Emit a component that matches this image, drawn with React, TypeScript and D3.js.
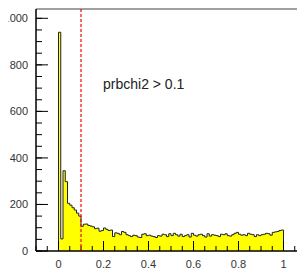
import * as d3 from 'd3';
import React, { useEffect, useRef } from 'react';

// bin contents, 100 bins of width 0.01 over [0, 1]
const binCounts: number[] = [
  940, 52, 345, 298, 205, 197, 186, 176, 163, 150,
  106, 115, 116, 110, 107, 104, 96, 98, 85, 88,
  99, 93, 88, 90, 62, 78, 76, 70, 84, 80,
  70, 66, 62, 68, 66, 60, 58, 72, 74, 66,
  68, 64, 62, 58, 66, 64, 72, 70, 62, 74,
  66, 76, 70, 64, 72, 62, 66, 70, 60, 76,
  68, 64, 70, 72, 66, 60, 74, 64, 70, 68,
  66, 62, 72, 70, 74, 66, 64, 70, 76, 80,
  72, 68, 70, 66, 76, 72, 70, 62, 70, 66,
  70, 72, 76, 74, 68, 80, 82, 84, 88, 90,
];
const binLow = 0;
const binWidth = 0.01;

const xTicks = [0, 0.2, 0.4, 0.6, 0.8, 1];
const xTickLabels = ["0", "0.2", "0.4", "0.6", "0.8", "1"];
const yTicks = [0, 200, 400, 600, 800, 1000];
const yTickLabels = ["0", "200", "400", "600", "800", "1000"];
const cutValue = 0.1;
const cutLabel = "prbchi2 > 0.1";

const W = 297;
const H = 269;

const App: React.FC = () => {
  const svgRef = useRef<SVGSVGElement>(null);

  useEffect(() => {
    if (!svgRef.current) { return; }
    const svg = d3.select(svgRef.current);
    svg.selectAll("*").remove();

    const left = 36, right = 297, top = 9, bottom = 251;
    const x = d3.scaleLinear().domain([-0.1, 1.06]).range([left, right]);
    const y = d3.scaleLinear().domain([0, 1040]).range([bottom, top]);

    // labels that run past the pad edge get cut, like in the original canvas
    svg.append("defs").append("clipPath")
      .attr("id", "padClip")
      .append("rect")
      .attr("x", 8.5).attr("y", 0)
      .attr("width", W).attr("height", H);

    // histogram outline points
    const pts: [number, number][] = [[binLow, 0]];
    binCounts.forEach((c, i) => pts.push([binLow + i * binWidth, c]));
    const xEnd = binLow + binCounts.length * binWidth;
    pts.push([xEnd, binCounts[binCounts.length - 1]]);
    pts.push([xEnd, 0]);

    const area = d3.area<[number, number]>()
      .x(p => x(p[0]))
      .y0(y(0))
      .y1(p => y(p[1]))
      .curve(d3.curveStepAfter);
    const line = d3.line<[number, number]>()
      .x(p => x(p[0]))
      .y(p => y(p[1]))
      .curve(d3.curveStepAfter);

    svg.append("path")
      .datum(pts)
      .attr("fill", "#ffff00")
      .attr("d", area);
    svg.append("path")
      .datum(pts)
      .attr("fill", "none")
      .attr("stroke", "#222")
      .attr("stroke-width", 1)
      .attr("d", line);

    // frame
    svg.append("line")
      .attr("x1", left).attr("x2", right)
      .attr("y1", top).attr("y2", top)
      .attr("stroke", "#808080").attr("stroke-width", 1.5);

    // x axis
    const xMinor = d3.range(-0.1, 1.0601, 0.05);
    const xAxis = svg.append("g");
    xAxis.append("line")
      .attr("x1", left).attr("x2", right)
      .attr("y1", bottom).attr("y2", bottom)
      .attr("stroke", "#000").attr("stroke-width", 1.5);
    xAxis.selectAll(".minor")
      .data(xMinor)
      .enter().append("line")
      .attr("x1", d => x(d)).attr("x2", d => x(d))
      .attr("y1", bottom).attr("y2", bottom - 5)
      .attr("stroke", "#000");
    xAxis.selectAll(".major")
      .data(xTicks)
      .enter().append("line")
      .attr("x1", d => x(d)).attr("x2", d => x(d))
      .attr("y1", bottom).attr("y2", bottom - 10)
      .attr("stroke", "#000");
    xAxis.selectAll("text")
      .data(xTicks)
      .enter().append("text")
      .attr("x", d => x(d))
      .attr("y", 268)
      .attr("text-anchor", "middle")
      .attr("font-family", "Liberation Sans, Arial, sans-serif")
      .attr("font-size", 11)
      .attr("fill", "#333")
      .text((_, i) => xTickLabels[i]);

    // y axis
    const yMinor = d3.range(0, 1040, 50);
    const yAxis = svg.append("g");
    yAxis.append("line")
      .attr("x1", left).attr("x2", left)
      .attr("y1", top).attr("y2", bottom)
      .attr("stroke", "#000").attr("stroke-width", 1.5);
    yAxis.selectAll(".minor")
      .data(yMinor)
      .enter().append("line")
      .attr("x1", left).attr("x2", left + 6)
      .attr("y1", d => y(d)).attr("y2", d => y(d))
      .attr("stroke", "#000");
    yAxis.selectAll(".major")
      .data(yTicks)
      .enter().append("line")
      .attr("x1", left).attr("x2", left + 12)
      .attr("y1", d => y(d)).attr("y2", d => y(d))
      .attr("stroke", "#000");
    yAxis.append("g")
      .attr("clip-path", "url(#padClip)")
      .selectAll("text")
      .data(yTicks)
      .enter().append("text")
      .attr("x", 28)
      .attr("y", d => y(d) + 4)
      .attr("text-anchor", "end")
      .attr("font-family", "Liberation Sans, Arial, sans-serif")
      .attr("font-size", 11)
      .attr("fill", "#333")
      .text((_, i) => yTickLabels[i]);

    // cut line
    svg.append("line")
      .attr("x1", x(cutValue)).attr("x2", x(cutValue))
      .attr("y1", top).attr("y2", bottom)
      .attr("stroke", "#ff0000")
      .attr("stroke-width", 1.2)
      .attr("stroke-dasharray", "3,2");

    svg.append("text")
      .attr("x", 103)
      .attr("y", 89)
      .attr("font-family", "Liberation Sans, Arial, sans-serif")
      .attr("font-size", 14)
      .attr("fill", "#222")
      .text(cutLabel);
  }, []);

  return (
    <svg
      ref={svgRef}
      width={W}
      height={H}
      style={{ position: "absolute", left: 0, top: 0, background: "#fff" }}
    />
  );
};

export default App;
